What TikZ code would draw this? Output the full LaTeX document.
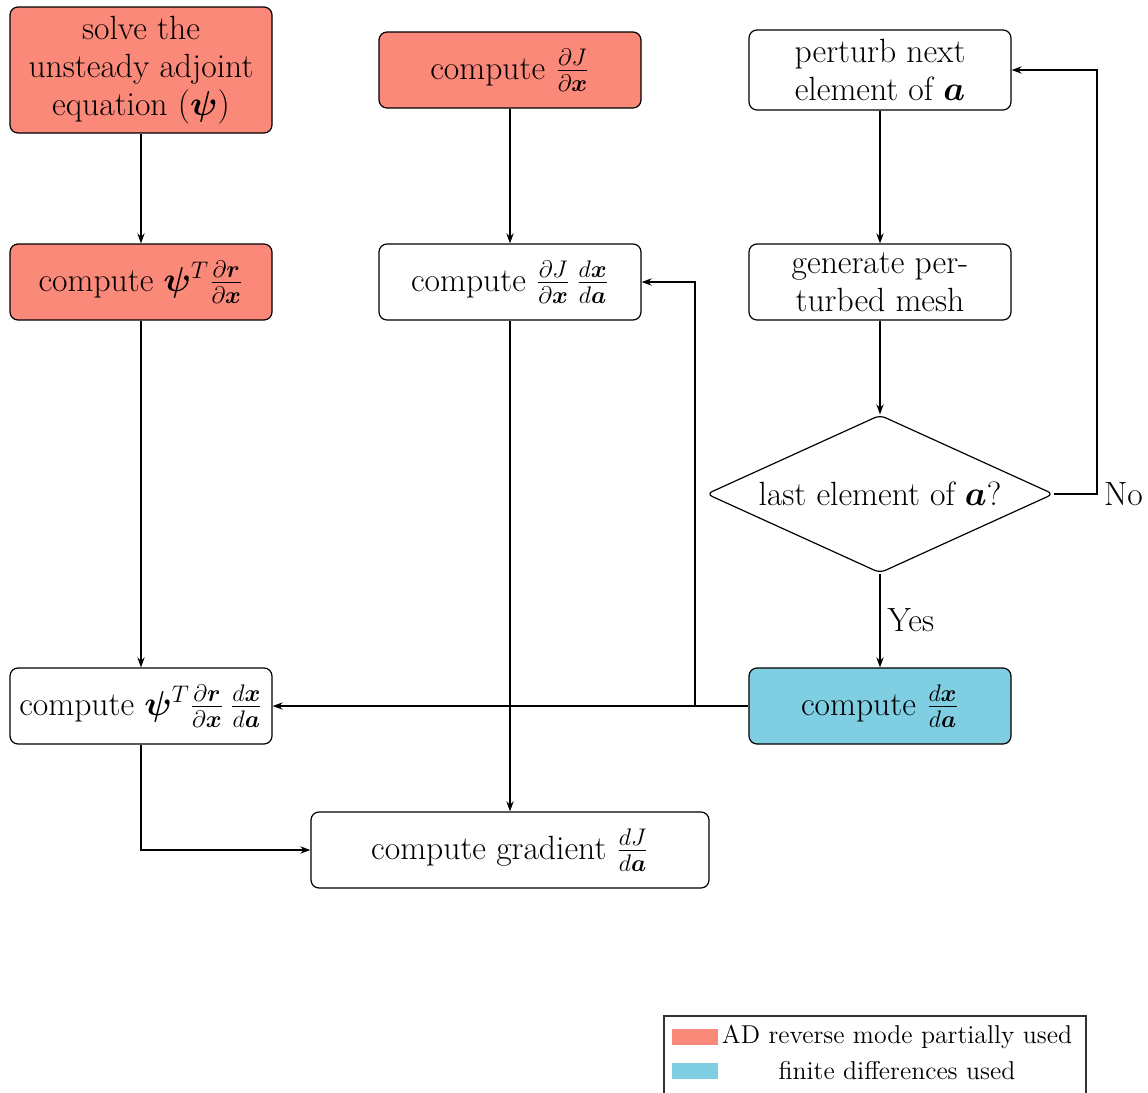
\documentclass[tikz,border=0pt]{standalone}
\usepackage{amsmath,bm}
\usetikzlibrary{shapes.geometric,arrows.meta}
\definecolor{adred}{RGB}{250,137,122}
\definecolor{fdblue}{RGB}{128,206,225}

\begin{document}
\begin{tikzpicture}[x=0.5pt,y=-0.5pt,
  every node/.style={font=\fontsize{16.8}{19}\selectfont},
  box/.style={draw, rounded corners=4pt, line width=0.6pt, align=center,
    minimum width=131pt, minimum height=38pt, inner sep=2pt},
  decision/.style={draw, diamond, aspect=2.2, rounded corners=3pt, line width=0.6pt,
    minimum width=173.5pt, minimum height=79pt, inner sep=0pt},
  flow/.style={line width=1pt, -{Stealth[length=5pt,width=3.6pt]}},
  swatch/.style={minimum width=23pt, minimum height=8pt, inner sep=0pt},
  legtext/.style={font=\fontsize{12.9}{15}\selectfont},
  ]
\useasboundingbox (0,0) rectangle (1148,1093);

% process steps
\node[box, fill=adred, minimum height=63pt] (solve) at (141,70)
  {solve the\\unsteady adjoint\\equation $(\bm{\psi})$};
\node[box, fill=adred] (dJdx) at (510,70)
  {compute $\frac{\partial J}{\partial \bm{x}}$};
\node[box, minimum height=40pt] (perturb) at (880,70)
  {perturb next\\element of $\bm{a}$};
\node[box, fill=adred] (psidr) at (141,282)
  {compute $\bm{\psi}^T\frac{\partial \bm{r}}{\partial \bm{x}}$};
\node[box] (dJdxdxda) at (510,282)
  {compute $\frac{\partial J}{\partial \bm{x}}\,\frac{d\bm{x}}{d\bm{a}}$};
\node[box] (mesh) at (880,282) {generate per-\\turbed mesh};
\node[decision] (last) at (880,494) {last element of $\bm{a}$?};
\node[box, fill=fdblue] (dxda) at (880,706)
  {compute $\frac{d\bm{x}}{d\bm{a}}$};
\node[box] (adjterm) at (141,706)
  {compute $\bm{\psi}^T\frac{\partial \bm{r}}{\partial \bm{x}}\,\frac{d\bm{x}}{d\bm{a}}$};
\node[box, minimum width=199pt] (grad) at (510,850)
  {compute gradient $\frac{dJ}{d\bm{a}}$};

% connectors
\draw[flow] (solve) -- (psidr);
\draw[flow] (psidr) -- (adjterm);
\draw[flow] (dJdx) -- (dJdxdxda);
\draw[flow] (dJdxdxda) -- (grad);
\draw[flow] (perturb) -- (mesh);
\draw[flow] (mesh) -- (last);
\draw[flow] (last) -- node[right] {Yes} (dxda);
\draw[flow] (last.east) -- ++(43,0) node[right, inner sep=3pt] {No} |- (perturb.east);
\draw[flow] (dxda) -- (adjterm);
\coordinate (split) at (695,706);
\draw[flow] (split) |- (dJdxdxda.east);
\draw[flow] (adjterm.south) |- (grad.west);

% legend
\draw[line width=0.8pt, black!80] (664,1093) -- (664,1016) -- (1086,1016) -- (1086,1093);
\node[swatch, fill=adred] (swA) at (695,1037) {};
\node[swatch, fill=fdblue] (swB) at (695,1071) {};
\node[legtext] (legA) at (897,1037) {AD reverse mode partially used};
\node[legtext] (legB) at (897,1071) {finite differences used};
\end{tikzpicture}
\end{document}
